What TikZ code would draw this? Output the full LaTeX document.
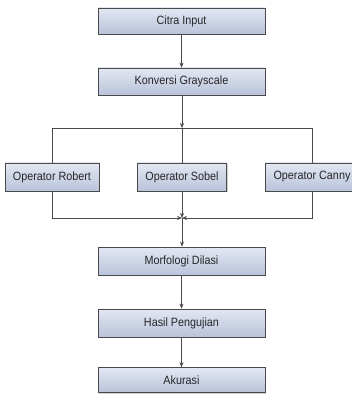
\documentclass[tikz,border=0pt]{standalone}
\usepackage{fontspec}
\setmainfont[FakeStretch=0.9]{Liberation Sans}
\usetikzlibrary{arrows.meta,shadows}
\definecolor{boxtop}{HTML}{E2E7F2}
\definecolor{boxbot}{HTML}{B9C3DA}
\definecolor{edge}{HTML}{4A4A4A}
\begin{document}
\begin{tikzpicture}[x=1pt,y=-1pt,
  box/.style={draw=edge, line width=0.7pt, top color=boxtop, bottom color=boxbot,
    drop shadow={shadow xshift=1.2pt, shadow yshift=-1.2pt, fill=black!30, opacity=0.6},
    minimum height=27pt, inner sep=0pt, font=\fontsize{12}{14}\selectfont, text=black!85},
  conn/.style={draw=edge, line width=0.6pt},
  arr/.style={conn, -{Stealth[length=5pt,width=4pt]}}]
\useasboundingbox (0,0) rectangle (351,403);
\node[box, minimum width=167pt, minimum height=26pt] (citra) at (181.5,21) {Citra Input};
\node[box, minimum width=167pt] (konv) at (181.5,81.5) {Konversi Grayscale};
\node[box, minimum width=94pt, minimum height=28pt] (rob) at (52,177) {Operator Robert};
\node[box, minimum width=89pt, minimum height=28pt] (sob) at (182,177) {Operator Sobel};
\node[box, minimum width=94pt, minimum height=28pt] (can) at (312,177) {Operator Canny};
\node[box, minimum width=167pt, minimum height=28pt] (morf) at (181.5,261) {Morfologi Dilasi};
\node[box, minimum width=167pt, minimum height=28pt] (hasil) at (181.5,323) {Hasil Pengujian};
\node[box, minimum width=167pt, minimum height=25pt] (akur) at (181.5,380) {Akurasi};
\coordinate (j1) at (182,128);
\coordinate (j2) at (182,218);
\coordinate (l1) at (52,128);
\coordinate (r1) at (312,128);
\coordinate (l2) at (52,218);
\coordinate (r2) at (312,218);
\draw[arr] (citra) -- (konv);
\draw[arr] (konv.south -| j1) -- (j1);
\draw[conn] (j1) -- (sob);
\draw[conn] (rob) -- (l1) -- (r1) -- (can);
\draw[arr] (rob) -- (l2) -- (j2);
\draw[arr] (can) -- (r2) -- (j2);
\draw[arr] (sob) -- (j2);
\draw[arr] (j2) -- (morf.north -| j2);
\draw[arr] (morf) -- (hasil);
\draw[arr] (hasil) -- (akur);
\end{tikzpicture}
\end{document}
